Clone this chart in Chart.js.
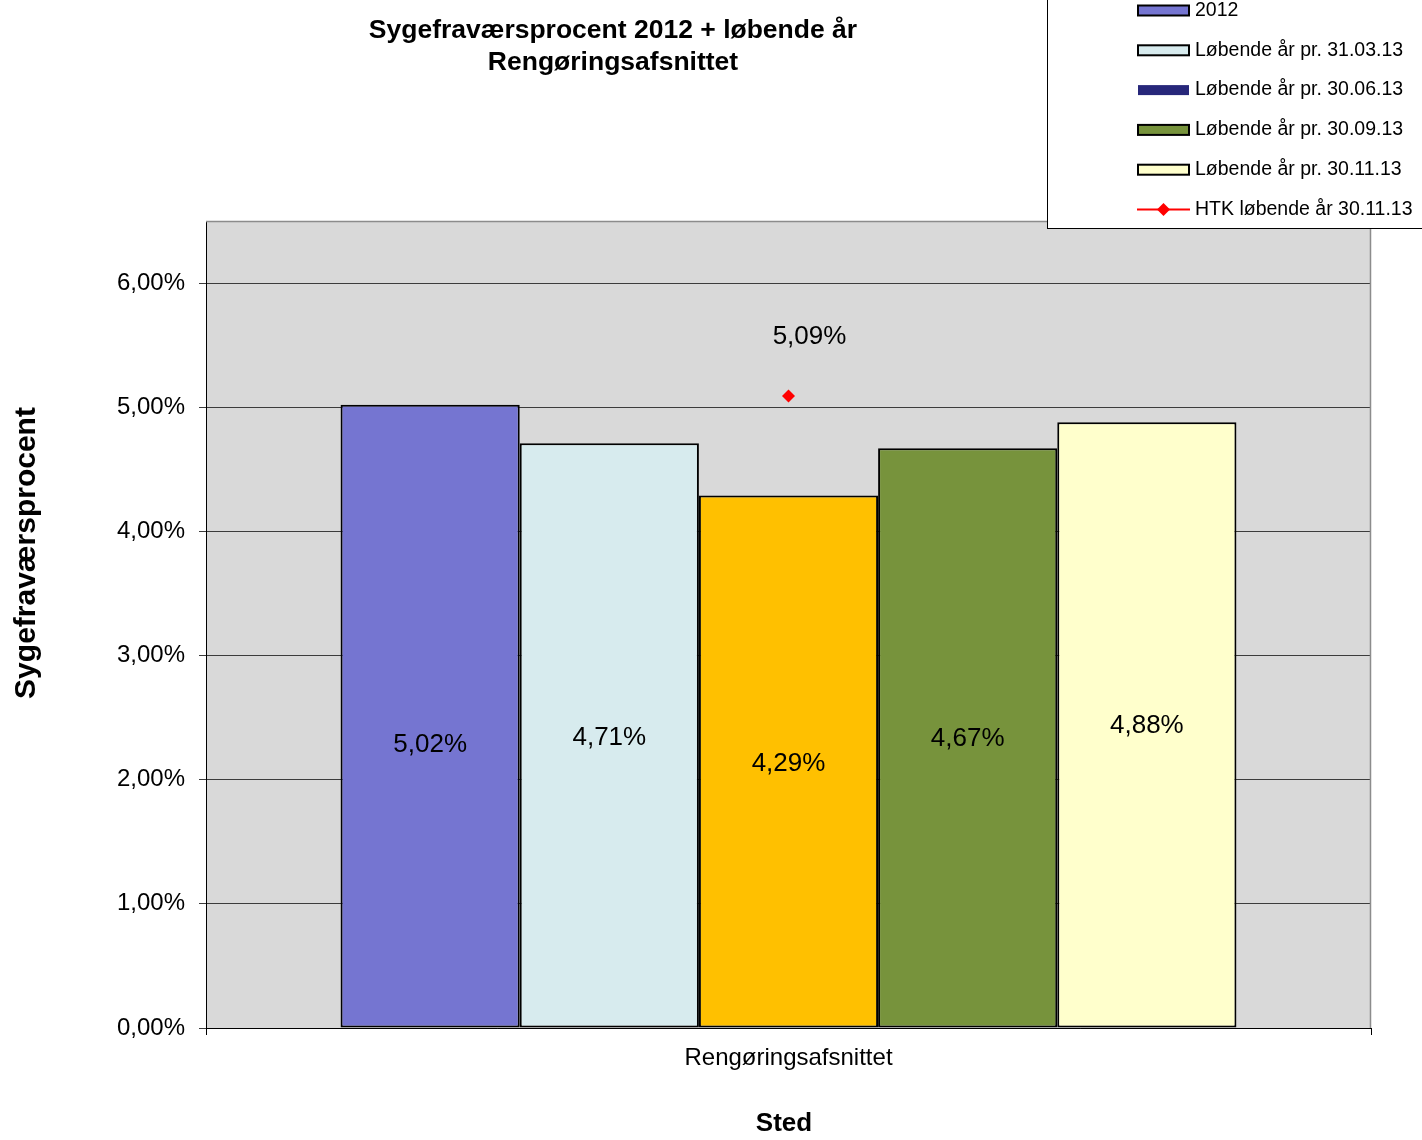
<!DOCTYPE html>
<html>
<head>
<meta charset="utf-8">
<script src="https://cdn.jsdelivr.net/npm/chart.js@4.4.0/dist/chart.umd.min.js"></script>
<style>
  html, body { margin: 0; padding: 0; background: #fff; }
  #wrap { width: 1422px; height: 1140px; }
</style>
</head>
<body>
<div id="wrap"><canvas id="sygefravaer"></canvas></div>
<script>
// data
var categories = ["Rengøringsafsnittet"];
var seriesNames = ["2012", "Løbende år pr. 31.03.13", "Løbende år pr. 30.06.13", "Løbende år pr. 30.09.13", "Løbende år pr. 30.11.13"];
var seriesValues = [5.02, 4.71, 4.29, 4.67, 4.88];
var htkName = "HTK løbende år 30.11.13";
var htkValues = [5.09];
var titleLines = ["Sygefraværsprocent 2012 + løbende år", "Rengøringsafsnittet"];
var yTitle = "Sygefraværsprocent";
var xTitle = "Sted";

var barColors = ['#7575D1', '#D7EBEE', '#FFC000', '#77933C', '#FFFFCC'];
var legendColors = ['#7575D1', '#D7EBEE', '#27277A', '#77933C', '#FFFFCC'];
var FONT = '"Liberation Sans", Arial, sans-serif';

function pct(v) {
    return v.toFixed(2).replace('.', ',') + '%';
}

/////////////////////////////////////////////////////////

var datasets = seriesNames.map(function(name, i) {
    return {
        type: 'bar',
        label: name,
        data: [seriesValues[i]],
        backgroundColor: barColors[i],
        borderColor: '#000',
        borderWidth: 2,
        borderSkipped: false,
        barPercentage: 1,
        categoryPercentage: 0.769,
        order: 1
    };
});

datasets.push({
    type: 'line',
    label: htkName,
    data: htkValues,
    showLine: false,
    borderColor: '#FF0000',
    backgroundColor: '#FF0000',
    pointStyle: 'rectRot',
    pointRadius: 6.5,
    pointBorderWidth: 0,
    order: 0
});

// grey plot area + light border on top/right
var plotBackground = {
    id: 'plotBackground',
    beforeDraw: function(chart) {
        var a = chart.chartArea, ctx = chart.ctx;
        ctx.save();
        ctx.fillStyle = '#D9D9D9';
        ctx.fillRect(a.left, a.top, a.right - a.left, a.bottom - a.top);
        ctx.restore();
    },
    beforeDatasetsDraw: function(chart) {
        var a = chart.chartArea, ctx = chart.ctx;
        ctx.save();
        ctx.strokeStyle = '#8C8C8C';
        ctx.lineWidth = 1.5;
        ctx.beginPath();
        ctx.moveTo(a.left, a.top + 0.5);
        ctx.lineTo(a.right - 0.5, a.top + 0.5);
        ctx.lineTo(a.right - 0.5, a.bottom);
        ctx.stroke();
        ctx.restore();
    }
};

// value labels
var valueLabels = {
    id: 'valueLabels',
    afterDatasetsDraw: function(chart, args, opts) {
        var ctx = chart.ctx;
        ctx.save();
        ctx.font = '26px ' + FONT;
        ctx.fillStyle = '#000';
        ctx.textAlign = 'center';
        ctx.textBaseline = 'middle';
        chart.data.datasets.forEach(function(ds, i) {
            var el = chart.getDatasetMeta(i).data[0];
            if (!el) return;
            if (ds.type === 'bar') {
                var y = (el.y + el.base) / 2 + (opts.shift[i] || 0);
                ctx.fillText(pct(ds.data[0]), el.x, y);
            } else {
                ctx.fillText(pct(ds.data[0]), el.x + 21, el.y - 59);
            }
        });
        ctx.restore();
    }
};

// titles and legend box drawn where the reference has them
var titleAndLegend = {
    id: 'titleAndLegend',
    afterDraw: function(chart) {
        var ctx = chart.ctx;
        ctx.save();
        ctx.fillStyle = '#000';
        ctx.textAlign = 'center';
        ctx.textBaseline = 'middle';
        ctx.font = 'bold 26.5px ' + FONT;
        titleLines.forEach(function(t, i) {
            ctx.fillText(t, 613, 31 + i * 32);
        });

        ctx.save();
        ctx.translate(27, 553);
        ctx.rotate(-Math.PI / 2);
        ctx.font = 'bold 30px ' + FONT;
        ctx.fillText(yTitle, 0, 0);
        ctx.restore();

        ctx.font = 'bold 26px ' + FONT;
        ctx.fillText(xTitle, 784, 1124);

        ctx.fillStyle = '#fff';
        ctx.fillRect(1047.5, -2, 400, 230.5);
        ctx.strokeStyle = '#000';
        ctx.lineWidth = 1;
        ctx.strokeRect(1047.5, -2, 400, 230.5);

        ctx.textAlign = 'left';
        ctx.font = '19.5px ' + FONT;
        var names = seriesNames.concat([htkName]);
        names.forEach(function(name, i) {
            var cy = 10.5 + i * 39.8;
            if (i < legendColors.length) {
                ctx.fillStyle = legendColors[i];
                ctx.fillRect(1138, cy - 5, 51, 10);
                if (i !== 2) {
                    ctx.strokeStyle = '#000';
                    ctx.lineWidth = 2;
                    ctx.strokeRect(1138, cy - 5, 51, 10);
                }
            } else {
                ctx.strokeStyle = '#FF0000';
                ctx.lineWidth = 2;
                ctx.beginPath();
                ctx.moveTo(1137, cy);
                ctx.lineTo(1190, cy);
                ctx.stroke();
                ctx.fillStyle = '#FF0000';
                ctx.beginPath();
                ctx.moveTo(1163.5, cy - 6.5);
                ctx.lineTo(1170, cy);
                ctx.lineTo(1163.5, cy + 6.5);
                ctx.lineTo(1157, cy);
                ctx.closePath();
                ctx.fill();
            }
            ctx.fillStyle = '#000';
            ctx.fillText(name, 1195, cy);
        });
        ctx.restore();
    }
};

var chart = new Chart(document.getElementById('sygefravaer'), {
    data: {
        labels: categories,
        datasets: datasets
    },
    options: {
        responsive: true,
        maintainAspectRatio: false,
        animation: false,
        layout: { padding: { top: 221, right: 51, left: 0, bottom: 0 } },
        plugins: {
            legend: { display: false },
            tooltip: { enabled: false },
            valueLabels: { shift: [29, 2, 2, 1, 1] }
        },
        scales: {
            x: {
                offset: true,
                grid: {
                    display: true,
                    drawOnChartArea: false,
                    offset: true,
                    color: '#000',
                    tickLength: 7
                },
                border: { color: '#000', width: 1 },
                ticks: {
                    color: '#000',
                    font: { family: FONT, size: 24 },
                    padding: 9
                },
                afterFit: function(scale) { scale.height = 112; }
            },
            y: {
                min: 0,
                max: 6.5,
                grid: {
                    color: function(c) { return c.tick && c.tick.value > 6 ? 'rgba(0,0,0,0)' : '#3C3C3C'; },
                    tickLength: 7
                },
                border: { color: '#000', width: 1 },
                ticks: {
                    stepSize: 1,
                    color: '#000',
                    font: { family: FONT, size: 24 },
                    padding: 14,
                    callback: function(v) { return v > 6 ? '' : pct(v); }
                },
                afterFit: function(scale) { scale.width = 206; }
            }
        }
    },
    plugins: [plotBackground, valueLabels, titleAndLegend]
});
</script>
</body>
</html>
